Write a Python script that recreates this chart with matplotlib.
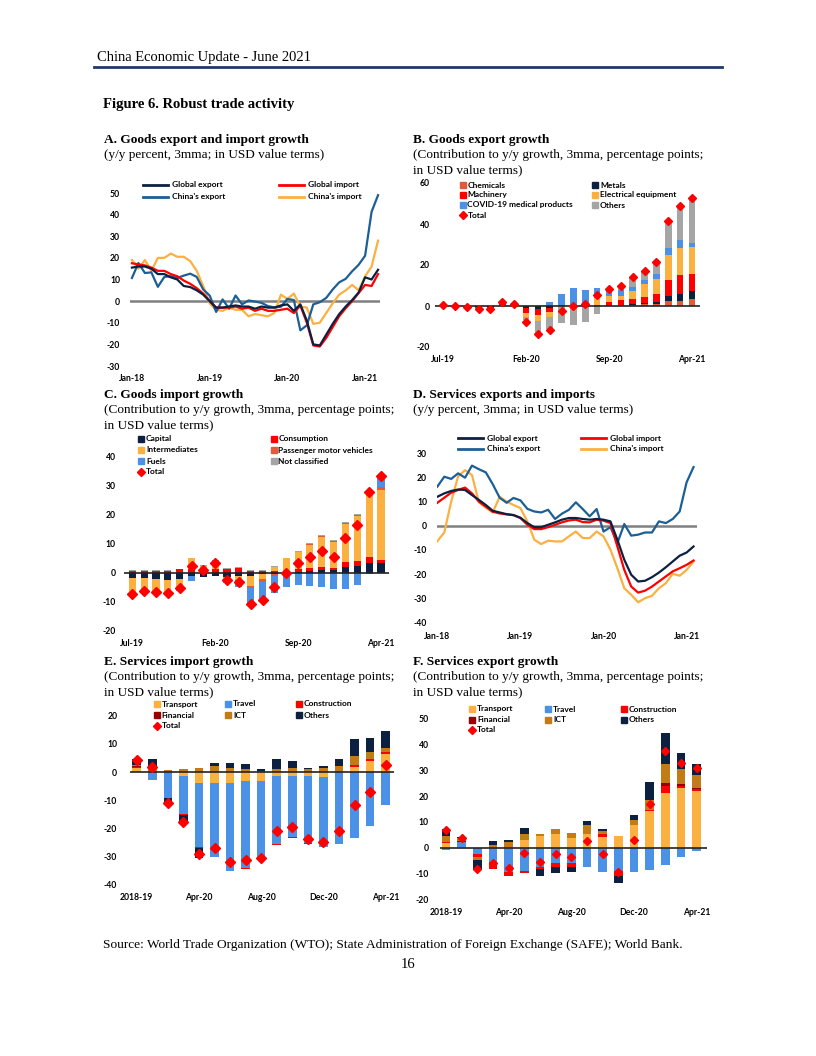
import matplotlib
matplotlib.use('Agg')
import matplotlib.pyplot as plt
from matplotlib.lines import Line2D
import numpy as np
import pandas as pd

W, H = 816, 1056

NAVY = '#0c2142'
CBLUE = '#1c5f96'
RED = '#ff0000'
ORANGE = '#fbb040'
LBLUE = '#4b92e6'
CHEM = '#e35a3b'
GRAY = '#a5a5a5'
BROWN = '#c27c17'
DRED = '#990000'
ZERO = '#808080'

# ---- A. Goods export and import growth (Jan-18 .. Mar-21)
a_months = list(pd.date_range('2018-01-01', periods=39, freq='MS').strftime('%b-%y'))
a_global_export = [15.5, 16, 16, 15, 12.5, 12.5, 11, 10, 7, 6.5, 5, 3, 0, -3, -3, -2.5, -2, -2.5, -2.5, -3.5,
                   -2.5, -3, -3, -2, -1.5, -4.5, -1.5, -9, -20, -20.5, -15.5, -10.5, -6, -2.5, 0.5, 4, 11, 10, 14.5]
a_global_import = [17.5, 17, 16.5, 15.5, 14, 14, 12.5, 11.5, 9.5, 8, 6, 3.5, 0, -3, -3, -3, -2.5, -3.5, -3, -4.5,
                   -3.5, -4.5, -4.5, -4, -3.5, -5.5, -2, -10, -20.5, -21, -17, -12, -7, -3.3, 0, 3.7, 7.5, 7, 12.5]
a_china_export = [10.7, 17.6, 13, 13.3, 6.6, 11.2, 11.5, 10.7, 11.8, 12.7, 11.2, 5.4, 2.6, -5, 0.8, -3.5, 2.6, -1.5,
                  0.3, -0.2, -0.8, -2.3, -2.9, -2.6, 1, 0.5, -13.5, -11.2, -1.5, -0.5, 1.5, 5.4, 8.7, 10.3, 13.8,
                  16.8, 21, 41.3, 49]
a_china_import = [19, 15, 19, 14, 20, 20, 22, 20.5, 20.5, 18.5, 14, 7, -1, -4, -4.5, -3, -4, -4, -7, -6,
                  -6.5, -7, -5.5, 3, 1, 3.5, -2.5, -3, -10.5, -10, -5.5, -1, 3, 5, 7.5, 5, 11.5, 16, 28]

# ---- B. Goods export growth (Jul-19 .. Apr-21)
b_months = list(pd.date_range('2019-07-01', periods=22, freq='MS').strftime('%b-%y'))
b_chemicals = [0.2, 0.1, 0, -0.2, -0.2, 0.5, 0.3, 0, 0, 0, 0, 0, 0, 0, 0, 0.3, 0.5, 1.0, 1.0, 2.2, 2.5, 3.3]
b_metals = [0.1, 0.1, -0.1, -0.3, -0.3, 0.2, 0.2, -1, -1.5, -1, 0, -0.3, -0.5, 0, 0, 0.2, 0.5, 0.7, 0.8, 2.8, 3.5, 4.2]
b_machinery = [0.1, 0.1, 0, -0.3, -0.3, 0.4, 0.3, -2.5, -3, -2, 0.5, 0, 0, 0.5, 2, 2.5, 2.5, 2.8, 4, 7.5, 9, 8]
b_electrical = [0, 0, 0, -0.2, -0.2, 0.2, 0.2, -2, -3, -2.5, 0, 0, 0, 3.5, 3, 2, 4, 6, 7.5, 12.5, 13.5, 13.5]
b_covid = [0, 0, 0, 0, 0, 0, 0, 0, 0, 2, 5.5, 9, 8, 5, 2.5, 3, 2, 2, 2.5, 3.5, 3.5, 1.5]
b_others = [0.2, 0, -0.1, -0.4, -0.5, 0.6, 0.5, -1.5, -6.5, -5.5, -8.5, -9, -7.5, -4, 1.5, 2, 4.5, 4.5, 5.5, 13, 17, 22]
b_total = [0.5, 0.2, -0.3, -1.3, -1.5, 2, 1.2, -7.8, -13.7, -11.5, -2.2, 0.2, 1.2, 5.5, 8.5, 10, 14.2, 17, 21.5,
           41.5, 49, 52.5]

# ---- C. Goods import growth (Jul-19 .. Apr-21)
c_capital = [-1.8, -1.7, -2.2, -2.5, -2.2, -1.2, -1.5, -1.2, -1.5, -1, -1.2, -0.5, -0.5, 0, 0.3, 0.7, 1, 1, 2, 2.3,
             3.3, 3.3]
c_consumption = [0.8, 0.8, 0.8, 0.8, 1.2, 1.5, 1.2, 1.2, 1.5, 1.7, 0.7, 0.7, 0.5, 0, 1, 1, 1, 0.8, 1.7, 1.7, 2.2, 1.2]
c_intermediates = [-5.2, -4.5, -4.4, -4.5, -2.8, 3.5, 1.3, 3, -2, -1.5, -3.3, -1.5, 1.7, 5, 6, 7.8, 10.3, 8.7, 13.1,
                   15.5, 22, 24]
c_vehicles = [0, 0, 0, 0, 0, 0, 0, 0, 0, -0.5, -0.7, -1.2, -0.5, 0, 0, 0.5, 0.4, 0.5, 0.4, 0.5, 0, 1]
c_fuels = [0, 0, -0.3, 0, -1.2, -1.6, 0, 0, 0, -2, -5.3, -6.3, -6, -5, -4, -4.5, -5, -5.5, -5.5, -4, -0.5, 3.5]
c_notclass = [0.3, 0.2, 0.2, 0.2, 0.2, 0.3, 0.3, 0.3, 0.3, 0.2, 0.2, 0.2, 0.2, 0.2, 0.2, 0.3, 0.3, 0.3, 0.3, 0.3,
              0.2, 0.2]
c_total = [-7.3, -6.2, -6.6, -7, -5.2, 2.5, 0.9, 3.5, -2.5, -3.3, -10.7, -9.3, -5, 0, 3.3, 5.4, 7.6, 5.5, 12, 16.5,
           27.9, 33.4]

# ---- D. Services exports and imports (Jan-18 .. Feb-21)
d_months = list(pd.date_range('2018-01-01', periods=38, freq='MS').strftime('%b-%y'))
d_global_export = [12, 13.4, 14.4, 15, 14.8, 12.7, 10.7, 8.6, 6.2, 5.5, 4.8, 4.4, 3.3, 1.1, -0.6, -0.6, 0.4, 1.4,
                   2.5, 3.2, 3.2, 2.8, 2.5, 2.8, 2.5, 1.8, -5.8, -14.1, -20.3, -23.1, -22.8, -21.3, -19.4, -17.2,
                   -14.8, -12.4, -11.1, -8.6]
d_global_import = [9.5, 11.6, 13.7, 14.8, 15.8, 13.4, 10, 7.9, 5.8, 5.1, 4.7, 4.4, 3.2, 0.4, -1.4, -1.4, -0.6, 0.4,
                   1.4, 2.2, 2.5, 1.5, 1.4, 2.5, 2.1, 1.1, -8.6, -18.3, -25.2, -27.7, -26.9, -25.2, -23.1, -21,
                   -18.9, -17.6, -16.2, -14.4]
d_china_export = [16.2, 20.3, 19.4, 21.7, 19.9, 24.9, 23.4, 22.1, 17.2, 11.6, 9.5, 11.5, 10.5, 7, 5.9, 5.5, 6.6, 2.8,
                  5, 6.6, 9.7, 6.9, 3.9, 6.9, -2.4, -0.6, -7.2, 0.7, -4.1, -3.7, -2.8, -2.8, 1.8, 1.1, 2.8, 5.9,
                  18, 24.3]
d_china_import = [-6.4, -2.8, 10, 20.5, 23, 21, 9.7, 7.5, 5.5, 12, 10, 8.6, 7.3, 1.8, -5.8, -7.6, -6.2, -6.5, -6.5,
                  -4.4, -2.4, -5.1, -5.1, -2.4, -4.4, -9.9, -17.6, -25.9, -28.6, -31.7, -30, -29, -25.9, -23.8,
                  -19.9, -20.7, -18.3, -14.8]

# ---- E/F. Services import / export growth (2018-19 avg, Jan-20 .. Apr-21)
s_cats = ['2018-19'] + list(pd.date_range('2020-01-01', periods=16, freq='MS').strftime('%b-%y'))
e_transport = [1.3, 0, 0, -1.2, -3.7, -3.7, -4, -3.3, -3, -1.2, -1.5, -1.3, -1.8, 0, 1.8, 4, 6.5]
e_travel = [0.3, -2.8, -9, -13.8, -22.8, -26.3, -31, -30.7, -28, -24.3, -21.5, -23.7, -24.7, -25.5, -23.5, -19, -11.8]
e_construction = [0.2, 0, -0.3, -0.3, -0.5, 0, 0, -0.3, -0.3, -0.3, -0.3, -0.3, 0, 0, 0.6, 0.6, 0.5]
e_financial = [0.2, 0, 0, 0, 0, 0, 0, 0, 0, 0, 0, 0, 0, 0, 0, 0.2, 0.2]
e_ict = [0.7, 2, 0.7, 1, 1.5, 2, 1.5, 1.2, 0.5, 1, 1.5, 1.2, 1.5, 2.2, 3.4, 2.4, 1.5]
e_others = [1.8, 2.5, -1.2, -2.7, -3.3, 1.2, 1.8, 1.6, 0.5, 3.7, 2.3, 0.3, 0.5, 2.3, 6, 5, 5.8]
e_total = [4.2, 1.8, -11, -17.5, -29, -27, -31.8, -31.3, -30.3, -21, -19.3, -23.7, -24.6, -21, -11.8, -7, 2.5]

f_transport = [2, 0.3, 0, 0, 0, 3.2, 4.7, 5.5, 4, 5.3, 4.3, 4.5, 8.7, 14.3, 21, 23, 22]
f_travel = [-1, 1.8, -2.5, -5.5, -9.5, -9, -7.5, -5.7, -5.8, -7.5, -9.5, -9, -9.5, -8.5, -6.8, -3.5, -1.2]
f_construction = [0.3, 0.2, -1, -2.5, -1.5, -0.7, -0.7, -1.5, -1.4, 0, 1, -2, 0, 0.4, 3, 1, 0.7]
f_financial = [0, 0.2, 0, 0, 0, 0, 0, 0, 0, 0, 0, 0, 0, 0, 1, 0.7, 0.3]
f_ict = [2.2, 1.3, -1, 1.3, 2.3, 2.3, 0.6, 1.8, 1.7, 3.7, 1.4, 0, 2, 3.8, 7.5, 5.8, 5.3]
f_others = [2.8, 0.5, -4, 1.2, 0.9, 2, -2.8, -2.5, -2.3, 1.5, 0.5, -2.5, 1.8, 6.8, 12, 6, 4]
f_total = [7, 3.7, -8.2, -6, -7.8, -2, -5.5, -2.3, -3.7, 2.8, -2.3, -9.5, 3, 16.8, 37.5, 32.8, 31]

plt.rcParams['font.family'] = ['Lato', 'DejaVu Sans']
plt.rcParams['axes.unicode_minus'] = False
SERIF = 'Liberation Serif'
fig = plt.figure(figsize=(W / 100, H / 100), dpi=100)


def fx(x):
    return x / W


def fy(y):
    return 1 - y / H


def add_ax(l, t, r, b):
    return fig.add_axes([fx(l), fy(b), (r - l) / W, (b - t) / H])


def style(ax, ylim, step, xticks, xlabels, xpad, ypad):
    for s in ax.spines.values():
        s.set_visible(False)
    ax.set_ylim(*ylim)
    ax.set_yticks(np.arange(ylim[0], ylim[1] + 1, step))
    ax.set_xticks(xticks, xlabels)
    ax.tick_params(axis='both', length=0, labelsize=6.2)
    ax.tick_params(axis='x', pad=xpad)
    ax.tick_params(axis='y', pad=ypad)
    for lab in ax.get_xticklabels() + ax.get_yticklabels():
        lab.set_fontweight('bold')
    ax.patch.set_alpha(0)


def stacked(ax, series, colors, width):
    x = np.arange(len(series[0]))
    pos = np.zeros(len(x))
    neg = np.zeros(len(x))
    for vals, c in zip(series, colors):
        v = np.array(vals, float)
        ax.bar(x, v, width, bottom=np.where(v >= 0, pos, neg), color=c, zorder=2, linewidth=0)
        pos += np.clip(v, 0, None)
        neg += np.clip(v, None, 0)
    ax.axhline(0, color='#222222', lw=1.2, zorder=3)


def totals(ax, vals, ms):
    ax.plot(np.arange(len(vals)), vals, ls='none', marker='D', ms=ms, color=RED, zorder=4)


def legend(cols, xs, ys, kind):
    # kind: 'line' for line legends, otherwise square boxes; 'D' inside entries for Total
    for x, col in zip(xs, cols):
        for y, (lab, c, m) in zip(ys, col):
            if kind == 'line':
                fig.add_artist(Line2D([fx(x - 29), fx(x - 4)], [fy(y), fy(y)], color=c, lw=2,
                                      transform=fig.transFigure))
            else:
                fig.add_artist(Line2D([fx(x - 5)], [fy(y)], ls='none', marker=m, ms=4 if m == 's' else 3.6,
                                      color=c, transform=fig.transFigure))
            fig.text(fx(x), fy(y), lab, fontsize=6, fontweight='bold', va='center', ha='left')


def title(x, y, lines):
    fig.text(fx(x), fy(y), lines[0], family=SERIF, fontsize=9.6, fontweight='bold', va='center')
    for i, s in enumerate(lines[1:]):
        fig.text(fx(x), fy(y + 15 * (i + 1)), s, family=SERIF, fontsize=9.5, va='center')


# header / footer
fig.text(fx(97), fy(57), 'China Economic Update - June 2021', family=SERIF, fontsize=10.5, va='center')
fig.add_artist(Line2D([fx(94), fx(722)], [fy(67), fy(67)], color='#1f3a68', lw=2, transform=fig.transFigure))
fig.text(fx(103), fy(105), 'Figure 6. Robust trade activity', family=SERIF, fontsize=10.5,
         fontweight='bold', va='center')
fig.text(fx(103), fy(945), 'Source: World Trade Organization (WTO); State Administration of Foreign Exchange '
         '(SAFE); World Bank.', family=SERIF, fontsize=9.6, va='center')
fig.text(fx(408), fy(965), '16', family=SERIF, fontsize=10.5, va='center', ha='center')

# ---- A
title(104, 140, ['A. Goods export and import growth', '(y/y percent, 3mma; in USD value terms)'])
ax = add_ax(130, 193, 380, 366)
xa = np.arange(len(a_months))
ax.axhline(0, color=ZERO, lw=1.8, zorder=1)
ax.plot(xa, a_china_import, color=ORANGE, lw=1.6, zorder=2)
ax.plot(xa, a_china_export, color=CBLUE, lw=1.6, zorder=2)
ax.plot(xa, a_global_import, color=RED, lw=1.6, zorder=3)
ax.plot(xa, a_global_export, color=NAVY, lw=1.6, zorder=3)
ax.set_xlim(-0.3, 38.3)
style(ax, (-30, 50), 10, [0, 12, 24, 36], [a_months[i] for i in (0, 12, 24, 36)], 6, 7.2)
legend([[('Global export', NAVY, None), ("China's export", CBLUE, None)],
        [('Global import', RED, None), ("China's import", ORANGE, None)]],
       [172, 308], [185, 197], 'line')

# ---- B
title(413, 140, ['B. Goods export growth', '(Contribution to y/y growth, 3mma, percentage points;',
                 'in USD value terms)'])
ax = add_ax(434.7, 183, 700.3, 347)
stacked(ax, [b_chemicals, b_metals, b_machinery, b_electrical, b_covid, b_others],
        [CHEM, NAVY, RED, ORANGE, LBLUE, GRAY], 0.55)
totals(ax, b_total, 4.2)
ax.set_xlim(-0.7, 21.7)
style(ax, (-20, 60), 20, [0, 7, 14, 21], [b_months[i] for i in (0, 7, 14, 21)], 6, 3.4)
legend([[('Chemicals', CHEM, 's'), ('Machinery', RED, 's'), ('COVID-19 medical products', LBLUE, 's'),
         ('Total', RED, 'D')],
        [('Metals', NAVY, 's'), ('Electrical equipment', ORANGE, 's'), ('Others', GRAY, 's')]],
       [467.5, 600], [185, 195, 205, 215], 'box')

# ---- C
title(104, 395, ['C. Goods import growth', '(Contribution to y/y growth, 3mma, percentage points;',
                 'in USD value terms)'])
ax = add_ax(124, 456.7, 389.3, 631)
stacked(ax, [c_capital, c_consumption, c_intermediates, c_vehicles, c_fuels, c_notclass],
        [NAVY, RED, ORANGE, CHEM, LBLUE, GRAY], 0.6)
totals(ax, c_total, 4.8)
ax.set_xlim(-0.7, 21.7)
style(ax, (-20, 40), 10, [0, 7, 14, 21], [b_months[i] for i in (0, 7, 14, 21)], 6, 5.8)
legend([[('Capital', NAVY, 's'), ('Intermediates', ORANGE, 's'), ('Fuels', LBLUE, 's'), ('Total', RED, 'D')],
        [('Consumption', RED, 's'), ('Passenger motor vehicles', CHEM, 's'), ('Not classified', GRAY, 's')]],
       [146, 278.5], [439, 450, 461, 472], 'box')

# ---- D
title(413, 395, ['D. Services exports and imports', '(y/y percent, 3mma; in USD value terms)'])
ax = add_ax(437, 453.3, 697, 622.3)
xd = np.arange(len(d_months))
ax.axhline(0, color=ZERO, lw=1.8, zorder=1)
ax.plot(xd, d_china_import, color=ORANGE, lw=1.6, zorder=2)
ax.plot(xd, d_china_export, color=CBLUE, lw=1.6, zorder=2)
ax.plot(xd, d_global_import, color=RED, lw=1.6, zorder=3)
ax.plot(xd, d_global_export, color=NAVY, lw=1.6, zorder=3)
ax.set_xlim(-0.05, 37.5)
style(ax, (-40, 30), 10, [0, 12, 24, 36], [d_months[i] for i in (0, 12, 24, 36)], 7, 7.2)
legend([[('Global export', NAVY, None), ("China's export", CBLUE, None)],
        [('Global import', RED, None), ("China's import", ORANGE, None)]],
       [487, 610], [438, 449], 'line')

# ---- E
title(104, 662, ['E. Services import growth', '(Contribution to y/y growth, 3mma, percentage points;',
                 'in USD value terms)'])
ax = add_ax(129.7, 715.7, 393.5, 885)
stacked(ax, [e_transport, e_travel, e_construction, e_financial, e_ict, e_others],
        [ORANGE, LBLUE, RED, DRED, BROWN, NAVY], 0.55)
totals(ax, e_total, 4.6)
ax.set_xlim(-0.45, 16.5)
style(ax, (-40, 20), 10, [0, 4, 8, 12, 16], [s_cats[i] for i in (0, 4, 8, 12, 16)], 5.8, 9)
legend([[('Transport', ORANGE, 's'), ('Financial', DRED, 's'), ('Total', RED, 'D')],
        [('Travel', LBLUE, 's'), ('ICT', BROWN, 's')],
        [('Construction', RED, 's'), ('Others', NAVY, 's')]],
       [161.5, 233, 304], [704, 715, 726], 'box')

# ---- F
title(413, 662, ['F. Services export growth', '(Contribution to y/y growth, 3mma, percentage points;',
                 'in USD value terms)'])
ax = add_ax(440, 718.3, 706.7, 899.7)
stacked(ax, [f_transport, f_travel, f_construction, f_financial, f_ict, f_others],
        [ORANGE, LBLUE, RED, DRED, BROWN, NAVY], 0.55)
totals(ax, f_total, 4.4)
ax.set_xlim(-0.38, 16.64)
style(ax, (-20, 50), 10, [0, 4, 8, 12, 16], [s_cats[i] for i in (0, 4, 8, 12, 16)], 6.3, 8)
legend([[('Transport', ORANGE, 's'), ('Financial', DRED, 's'), ('Total', RED, 'D')],
        [('Travel', LBLUE, 's'), ('ICT', BROWN, 's')],
        [('Construction', RED, 's'), ('Others', NAVY, 's')]],
       [477, 553, 628.5], [709, 719.5, 730], 'box')

fig.savefig('out.png', dpi=100)
